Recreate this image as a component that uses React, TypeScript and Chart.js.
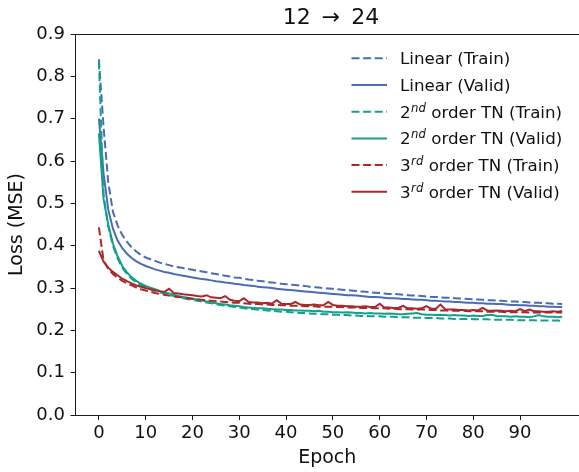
import React, { useEffect, useRef } from "react";
import { Chart, registerables } from "chart.js";

Chart.register(...registerables);

const TITLE = "12 → 24";
const X_LABEL = "Epoch";
const Y_LABEL = "Loss (MSE)";
const X_TICKS = [0, 10, 20, 30, 40, 50, 60, 70, 80, 90];
const Y_TICKS = [0.0, 0.1, 0.2, 0.3, 0.4, 0.5, 0.6, 0.7, 0.8, 0.9];

const SERIES_LABELS = [
  "Linear (Train)",
  "Linear (Valid)",
  "2nd order TN (Train)",
  "2nd order TN (Valid)",
  "3rd order TN (Train)",
  "3rd order TN (Valid)",
];
const SERIES_COLORS = ["#4a6cb6", "#4a6cb6", "#14a08a", "#14a08a", "#a8282c", "#a8282c"];
const SERIES_DASHED = [true, false, true, false, true, false];

const linearTrain = [
  0.840, 0.680, 0.550, 0.480, 0.448, 0.425, 0.409, 0.396, 0.386, 0.378,
  0.372, 0.368, 0.364, 0.360, 0.357, 0.354, 0.351, 0.349, 0.347, 0.345,
  0.343, 0.341, 0.339, 0.337, 0.335, 0.333, 0.331, 0.329, 0.327, 0.325,
  0.324, 0.322, 0.320, 0.319, 0.317, 0.316, 0.314, 0.313, 0.312, 0.310,
  0.309, 0.308, 0.307, 0.306, 0.305, 0.303, 0.302, 0.301, 0.300, 0.299,
  0.298, 0.297, 0.296, 0.295, 0.294, 0.293, 0.292, 0.291, 0.290, 0.289,
  0.288, 0.287, 0.286, 0.286, 0.285, 0.284, 0.283, 0.282, 0.282, 0.281,
  0.280, 0.279, 0.279, 0.278, 0.277, 0.277, 0.276, 0.275, 0.275, 0.274,
  0.273, 0.273, 0.272, 0.271, 0.271, 0.270, 0.270, 0.269, 0.268, 0.268,
  0.267, 0.267, 0.266, 0.265, 0.265, 0.264, 0.264, 0.263, 0.263, 0.262,
];

const linearValid = [
  0.700, 0.570, 0.485, 0.440, 0.412, 0.394, 0.381, 0.371, 0.363, 0.357,
  0.352, 0.348, 0.344, 0.341, 0.338, 0.336, 0.333, 0.331, 0.329, 0.327,
  0.325, 0.323, 0.321, 0.320, 0.318, 0.316, 0.315, 0.313, 0.312, 0.310,
  0.309, 0.307, 0.306, 0.305, 0.303, 0.302, 0.301, 0.300, 0.298, 0.297,
  0.296, 0.295, 0.294, 0.293, 0.292, 0.291, 0.290, 0.289, 0.288, 0.287,
  0.286, 0.285, 0.284, 0.283, 0.283, 0.282, 0.281, 0.280, 0.279, 0.279,
  0.278, 0.277, 0.276, 0.276, 0.275, 0.274, 0.274, 0.273, 0.272, 0.272,
  0.271, 0.270, 0.270, 0.269, 0.268, 0.268, 0.267, 0.267, 0.266, 0.265,
  0.265, 0.264, 0.264, 0.263, 0.263, 0.262, 0.262, 0.261, 0.260, 0.260,
  0.259, 0.259, 0.258, 0.258, 0.257, 0.257, 0.256, 0.256, 0.255, 0.255,
];

const tn2Train = [
  0.835, 0.520, 0.445, 0.400, 0.370, 0.348, 0.333, 0.322, 0.313, 0.307,
  0.302, 0.297, 0.293, 0.290, 0.287, 0.284, 0.281, 0.278, 0.276, 0.274,
  0.272, 0.270, 0.268, 0.266, 0.264, 0.262, 0.260, 0.258, 0.257, 0.255,
  0.254, 0.252, 0.251, 0.250, 0.249, 0.248, 0.247, 0.246, 0.245, 0.244,
  0.244, 0.243, 0.242, 0.241, 0.241, 0.240, 0.239, 0.239, 0.238, 0.238,
  0.237, 0.237, 0.236, 0.236, 0.235, 0.235, 0.234, 0.234, 0.233, 0.233,
  0.233, 0.232, 0.232, 0.232, 0.231, 0.231, 0.231, 0.230, 0.230, 0.230,
  0.229, 0.229, 0.229, 0.228, 0.228, 0.228, 0.227, 0.227, 0.227, 0.227,
  0.226, 0.226, 0.226, 0.226, 0.225, 0.225, 0.225, 0.225, 0.225, 0.224,
  0.224, 0.224, 0.224, 0.224, 0.223, 0.223, 0.223, 0.223, 0.223, 0.222,
];

const tn2Valid = [
  0.665, 0.510, 0.450, 0.405, 0.375, 0.352, 0.337, 0.325, 0.317, 0.310,
  0.305, 0.301, 0.297, 0.293, 0.290, 0.287, 0.284, 0.281, 0.279, 0.277,
  0.275, 0.273, 0.271, 0.268, 0.266, 0.264, 0.262, 0.261, 0.259, 0.258,
  0.257, 0.255, 0.254, 0.253, 0.252, 0.252, 0.251, 0.250, 0.249, 0.249,
  0.248, 0.248, 0.247, 0.247, 0.246, 0.246, 0.245, 0.246, 0.244, 0.244,
  0.243, 0.243, 0.242, 0.243, 0.242, 0.241, 0.241, 0.240, 0.241, 0.240,
  0.240, 0.239, 0.240, 0.239, 0.238, 0.238, 0.239, 0.240, 0.241, 0.238,
  0.237, 0.237, 0.236, 0.237, 0.236, 0.235, 0.236, 0.235, 0.235, 0.234,
  0.235, 0.234, 0.234, 0.236, 0.237, 0.234, 0.233, 0.233, 0.232, 0.233,
  0.232, 0.232, 0.231, 0.233, 0.236, 0.233, 0.232, 0.232, 0.231, 0.232,
];

const tn3Train = [
  0.443, 0.365, 0.345, 0.333, 0.324, 0.317, 0.311, 0.306, 0.301, 0.297,
  0.294, 0.291, 0.288, 0.286, 0.284, 0.282, 0.280, 0.279, 0.277, 0.276,
  0.274, 0.273, 0.272, 0.271, 0.270, 0.269, 0.268, 0.267, 0.266, 0.265,
  0.265, 0.264, 0.263, 0.262, 0.262, 0.261, 0.261, 0.260, 0.260, 0.259,
  0.259, 0.258, 0.258, 0.258, 0.257, 0.257, 0.257, 0.256, 0.256, 0.256,
  0.256, 0.255, 0.255, 0.254, 0.254, 0.254, 0.253, 0.253, 0.253, 0.252,
  0.252, 0.252, 0.251, 0.251, 0.250, 0.250, 0.250, 0.249, 0.249, 0.249,
  0.249, 0.248, 0.248, 0.247, 0.247, 0.247, 0.246, 0.246, 0.246, 0.245,
  0.245, 0.245, 0.245, 0.244, 0.244, 0.244, 0.244, 0.243, 0.243, 0.243,
  0.243, 0.243, 0.242, 0.242, 0.242, 0.242, 0.242, 0.242, 0.242, 0.242,
];

const tn3Valid = [
  0.388, 0.362, 0.348, 0.338, 0.330, 0.322, 0.316, 0.311, 0.306, 0.303,
  0.300, 0.297, 0.295, 0.292, 0.291, 0.298, 0.288, 0.287, 0.285, 0.284,
  0.283, 0.281, 0.280, 0.283, 0.278, 0.277, 0.276, 0.281, 0.272, 0.270,
  0.269, 0.276, 0.267, 0.266, 0.266, 0.264, 0.265, 0.263, 0.271, 0.263,
  0.262, 0.262, 0.267, 0.261, 0.260, 0.260, 0.261, 0.259, 0.259, 0.267,
  0.260, 0.258, 0.258, 0.257, 0.257, 0.256, 0.256, 0.257, 0.255, 0.255,
  0.263, 0.254, 0.254, 0.253, 0.253, 0.258, 0.252, 0.252, 0.251, 0.252,
  0.257, 0.251, 0.251, 0.261, 0.250, 0.249, 0.249, 0.248, 0.248, 0.247,
  0.248, 0.247, 0.253, 0.247, 0.246, 0.247, 0.246, 0.245, 0.246, 0.245,
  0.250, 0.245, 0.249, 0.245, 0.245, 0.244, 0.244, 0.245, 0.244, 0.246,
];

const SERIES_VALUES = [linearTrain, linearValid, tn2Train, tn2Valid, tn3Train, tn3Valid];

const FONT = "'DejaVu Sans', sans-serif";
const AXIS_COLOR = "#1a1a1a";
const TEXT_COLOR = "#111";

const decorPlugin = {
  id: "decor",
  afterDraw(chart: any) {
    const { ctx, chartArea } = chart;
    ctx.save();
    // top spine
    ctx.strokeStyle = AXIS_COLOR;
    ctx.lineWidth = 1;
    ctx.beginPath();
    ctx.moveTo(chartArea.left, Math.round(chartArea.top) + 0.5);
    ctx.lineTo(chartArea.right, Math.round(chartArea.top) + 0.5);
    ctx.stroke();

    // title with relation spacing
    ctx.fillStyle = TEXT_COLOR;
    ctx.font = `22px ${FONT}`;
    ctx.textBaseline = "middle";
    ctx.textAlign = "left";
    const parts = TITLE.split(" ");
    const gap = 11;
    const widths = parts.map((p: string) => ctx.measureText(p).width);
    const total = widths.reduce((a: number, b: number) => a + b, 0) + gap * (parts.length - 1);
    let tx = 331 - total / 2;
    parts.forEach((p: string, i: number) => {
      ctx.fillText(p, tx, 18.5);
      tx += widths[i] + gap;
    });

    // legend
    const x0 = 351.5;
    const x1 = 387;
    const textX = 400;
    const rowY0 = 58.3;
    const rowStep = 26.7;
    chart.data.datasets.forEach((ds: any, i: number) => {
      const y = rowY0 + rowStep * i;
      ctx.strokeStyle = ds.borderColor;
      ctx.lineWidth = 2;
      ctx.setLineDash(ds.borderDash || []);
      ctx.beginPath();
      ctx.moveTo(x0, y);
      ctx.lineTo(x1, y);
      ctx.stroke();
      ctx.setLineDash([]);

      const label: string = ds.label;
      const base = y + 5.8;
      ctx.fillStyle = TEXT_COLOR;
      ctx.textBaseline = "alphabetic";
      const m = label.match(/^(\d)(st|nd|rd|th)(.*)$/);
      if (m) {
        ctx.font = `16.7px ${FONT}`;
        ctx.fillText(m[1], textX, base);
        let cx = textX + ctx.measureText(m[1]).width + 0.5;
        ctx.font = `italic 11.7px ${FONT}`;
        ctx.fillText(m[2], cx, base - 5.8);
        cx += ctx.measureText(m[2]).width;
        ctx.font = `16.7px ${FONT}`;
        ctx.fillText(m[3], cx, base);
      } else {
        ctx.font = `16.7px ${FONT}`;
        ctx.fillText(label, textX, base);
      }
    });
    ctx.restore();
  },
};

export default function App() {
  const canvasRef = useRef<HTMLCanvasElement | null>(null);

  useEffect(() => {
    const canvas = canvasRef.current;
    if (!canvas) return;
    const datasets = SERIES_LABELS.map((label, i) => ({
      label,
      data: SERIES_VALUES[i].map((v, e) => ({ x: e, y: v })),
      borderColor: SERIES_COLORS[i],
      backgroundColor: SERIES_COLORS[i],
      borderWidth: 2,
      borderDash: SERIES_DASHED[i] ? [8, 3.6] : [],
      pointRadius: 0,
      tension: 0,
      fill: false,
      order: SERIES_LABELS.length - i,
    }));

    const chart = new Chart(canvas, {
      type: "line",
      data: { datasets },
      plugins: [decorPlugin],
      options: {
        animation: false,
        responsive: false,
        devicePixelRatio: 1,
        layout: { padding: { top: 34, left: 0, right: 0, bottom: 0 } },
        plugins: {
          legend: { display: false },
          tooltip: { enabled: false },
          title: { display: false },
        },
        scales: {
          x: {
            type: "linear",
            min: -5.0,
            max: 102.6,
            afterFit: (scale: any) => {
              scale.height = 57;
            },
            afterBuildTicks: (scale: any) => {
              scale.ticks = X_TICKS.map((v) => ({ value: v }));
            },
            ticks: {
              font: { family: FONT, size: 18 },
              color: TEXT_COLOR,
              padding: 3,
              maxRotation: 0,
              autoSkip: false,
            },
            grid: {
              drawOnChartArea: false,
              drawTicks: true,
              tickLength: 5,
              tickColor: AXIS_COLOR,
              tickWidth: 1,
            },
            border: { display: true, color: AXIS_COLOR, width: 1 },
            title: {
              display: true,
              text: X_LABEL,
              font: { family: FONT, size: 19 },
              color: TEXT_COLOR,
              padding: { top: 0, bottom: 2.5 },
            },
          },
          y: {
            type: "linear",
            min: 0,
            max: 0.9,
            afterFit: (scale: any) => {
              scale.width = 75.5;
            },
            afterBuildTicks: (scale: any) => {
              scale.ticks = Y_TICKS.map((v) => ({ value: v }));
            },
            ticks: {
              font: { family: FONT, size: 18 },
              color: TEXT_COLOR,
              padding: 5.5,
              callback: (v: any) => Number(v).toFixed(1),
            },
            grid: {
              drawOnChartArea: false,
              drawTicks: true,
              tickLength: 5,
              tickColor: AXIS_COLOR,
              tickWidth: 1,
            },
            border: { display: true, color: AXIS_COLOR, width: 1 },
            title: {
              display: true,
              text: Y_LABEL,
              font: { family: FONT, size: 19 },
              color: TEXT_COLOR,
              padding: { top: 6, bottom: 0 },
            },
          },
        },
      },
    });
    return () => chart.destroy();
  }, []);

  return (
    <div style={{ position: "fixed", left: 0, top: 0, width: 579, height: 472, background: "#fff" }}>
      <canvas ref={canvasRef} width={579} height={472} />
    </div>
  );
}
